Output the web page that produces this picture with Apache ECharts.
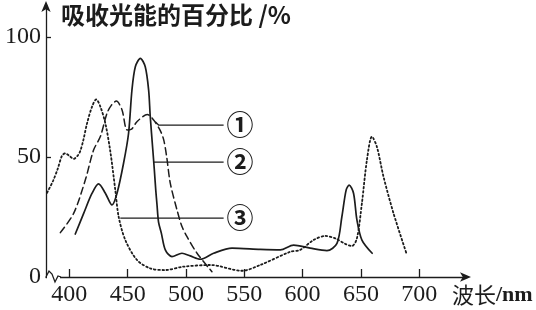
<!DOCTYPE html>
<html><head><meta charset="utf-8">
<script src="https://cdn.jsdelivr.net/npm/echarts@6/dist/echarts.min.js"></script>
<style>html,body{margin:0;padding:0;background:#fff}#c{width:536px;height:310px}</style>
</head><body><div id="c"></div>
<script>
// ---- data (wavelength nm, absorption %) ----
var xTicks = [400, 450, 500, 550, 600, 650, 700];
var yTicks = [0, 50, 100];
// curve ① (dashed)
var c1Nm  = [392.3, 403.7, 413.7, 420.8, 426.6, 432.3, 436, 440.3, 445.2, 449.5, 453, 458, 466.9, 472.3, 478, 481, 483.5, 486.6, 492.3, 496.6, 500.9, 509.5, 522.3];
var c1Val = [18.5, 26.5, 40.4, 52.9, 58.5, 68.2, 71.5, 73.3, 69.6, 61.3, 61.5, 64.7, 67.7, 65.4, 61, 57, 50, 39, 28, 21, 16.8, 9.9, 2.2];
// curve ② (solid)
var c2Nm  = [405.1, 412.3, 419.5, 425.1, 430.9, 436.6, 440.9, 446.5, 450.8, 453.7, 456.6, 460.9, 465.1, 468, 469.4, 471.6, 472.9, 474.1, 475.2, 476.5, 478.9, 482.3, 488, 496.6, 503.7, 512.3, 523.7, 539.5, 563.7, 580.9, 592.3, 606.6, 620.9, 629.5, 633.7, 637.4, 640, 643.7, 646.6, 650.9, 659.7];
var c2Val = [17.9, 26.5, 34.9, 38.8, 34.9, 30, 34.9, 47.4, 59.9, 77.9, 87.6, 91.1, 87.6, 77.9, 66.8, 52.9, 44.6, 36.3, 30, 22.9, 18.3, 11.3, 8.5, 9.9, 8.8, 7.4, 9.9, 12, 11.5, 11.3, 13.3, 12, 11, 14, 25.1, 36.3, 38.3, 34.9, 23.8, 15.4, 9.9];
// curve ③ (dotted)
var c3Nm  = [380.9, 386, 390, 393.7, 396.5, 400, 403.7, 407, 409.4, 412, 415.2, 419.5, 423.1, 426.6, 430.9, 435.1, 439.4, 442.3, 448, 458, 469.4, 482.3, 497.7, 520.9, 548, 563.7, 589.4, 598, 609.4, 619.4, 628, 636.6, 642.3, 646.6, 650.9, 655.2, 659.5, 663.7, 669.4, 678, 688.9];
var c3Val = [35.1, 40, 45, 50.5, 51.5, 50.5, 49.2, 50.5, 52.5, 57, 64, 71, 74, 71, 64, 52.5, 36.3, 25.1, 15.4, 7.1, 3.6, 2.9, 4.3, 5, 2.6, 5, 10.5, 11.3, 15.4, 17.1, 16.1, 13.8, 12.9, 16.1, 30.8, 48.8, 58.5, 54.3, 41.8, 26.5, 10.1];
// leader lines
var lead1Nm = [473.7, 476.5, 532.3], lead1Val = [64.7, 63.3, 63.3];
var lead2Nm = [472.3, 532.3],        lead2Val = [47.9, 47.9];
var lead3Nm = [443.7, 532.3],        lead3Val = [24.5, 24.5];
var leadLabels = ['①', '②', '③'];
var yTitle = '吸收光能的百分比 /%';
var xTitleA = '波长', xTitleB = '/nm';

function pairs(a, b) { return a.map(function (v, i) { return [v, b[i]]; }); }
var ink = '#1c1c1c';
var chart = echarts.init(document.getElementById('c'), null, {renderer: 'canvas'});
function curve(nm, val, type, w) {
  return {type: 'line', data: pairs(nm, val), symbol: 'none', smooth: 0.3, silent: true,
    lineStyle: {color: ink, width: w, type: type, cap: 'round'}, z: 3};
}
function leader(nm, val, lab) {
  return {type: 'line', data: pairs(nm, val), symbol: 'none', silent: true,
    lineStyle: {color: ink, width: 1.3},
    endLabel: {show: true, formatter: lab, distance: 3, color: ink,
      fontFamily: 'Noto Sans CJK SC', fontSize: 27, fontWeight: 'bold'}, z: 4};
}
chart.setOption({
  animation: false,
  backgroundColor: '#fff',
  title: [
    {text: yTitle, left: 56, top: -2,
     textStyle: {fontFamily: 'Noto Sans CJK SC', fontSize: 24, fontWeight: 'bold', color: ink}},
    {text: '{a|' + xTitleA + '}{b|' + xTitleB + '}', left: 447, top: 279,
     textStyle: {rich: {
       a: {fontFamily: 'Noto Sans CJK SC', fontSize: 22, fontWeight: 'normal', color: ink},
       b: {fontFamily: 'Liberation Serif', fontSize: 22, fontWeight: 'bold', color: ink}}}}
  ],
  grid: {left: 46, right: 69, top: 5, bottom: 33},
  xAxis: {type: 'value', min: 380, max: 741, splitLine: {show: false},
    axisLine: {show: true, lineStyle: {color: ink, width: 1.3}, symbol: ['none', 'arrow'], symbolSize: [7, 11], symbolOffset: [0, 4]},
    axisTick: {show: true, inside: true, length: 8, customValues: xTicks, lineStyle: {color: ink, width: 1.3}},
    axisLabel: {show: true, customValues: xTicks, margin: 6, color: ink, fontFamily: 'Liberation Serif', fontSize: 24}
  },
  yAxis: {type: 'value', min: 0, max: 113.33, splitLine: {show: false},
    axisLine: {show: true, lineStyle: {color: ink, width: 1.3}, symbol: ['none', 'arrow'], symbolSize: [7, 11], symbolOffset: [0, 4]},
    axisTick: {show: true, inside: true, length: 5, customValues: [50, 100], lineStyle: {color: ink, width: 1.3}},
    axisLabel: {show: true, customValues: yTicks, margin: 5, color: ink, fontFamily: 'Liberation Serif', fontSize: 24}
  },
  series: [
    curve(c1Nm, c1Val, [7, 4], 1.5),
    curve(c2Nm, c2Val, 'solid', 1.7),
    curve(c3Nm, c3Val, [1.6, 2.6], 1.8),
    leader(lead1Nm, lead1Val, leadLabels[0]),
    leader(lead2Nm, lead2Val, leadLabels[1]),
    leader(lead3Nm, lead3Val, leadLabels[2])
  ],
  graphic: [
    {type: 'rect', shape: {x: 47, y: 274, width: 13, height: 6}, style: {fill: '#fff'}, z: 10},
    {type: 'polyline', shape: {points: [[46, 277], [49, 271], [52, 274], [55, 282], [58, 276], [61, 277]]},
     style: {stroke: ink, lineWidth: 1.3, fill: null}, z: 11}
  ]
});
</script></body></html>
